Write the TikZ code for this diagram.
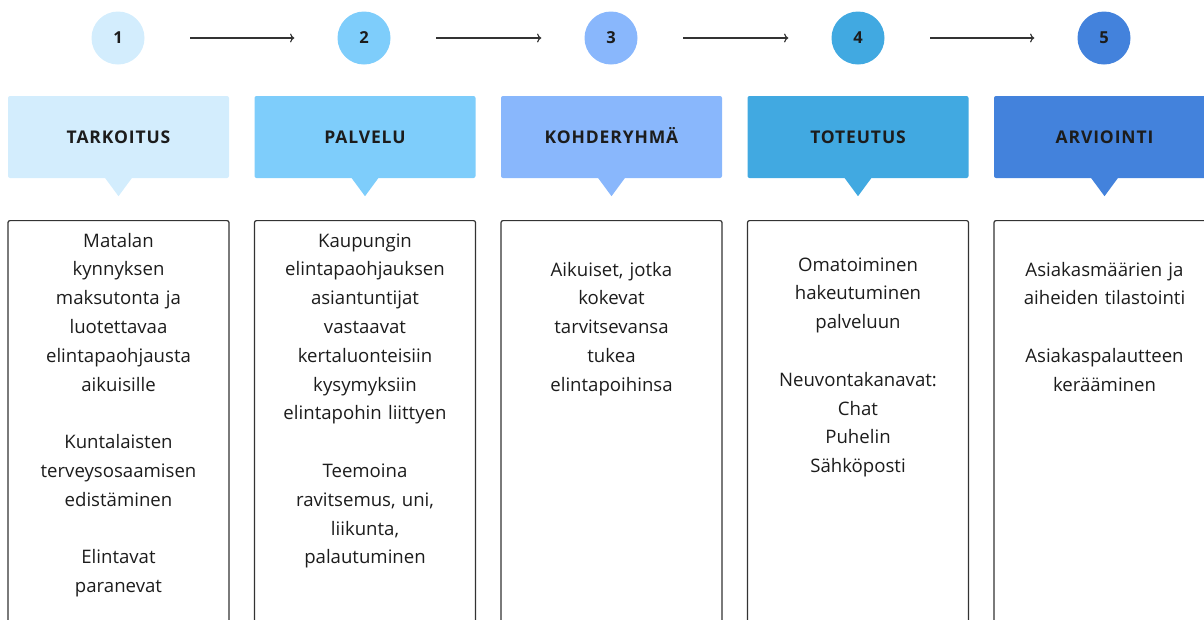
\documentclass[tikz,border=0pt]{standalone}
\usepackage{fontspec}
\setmainfont{Open Sans}
\usetikzlibrary{arrows.meta}
\definecolor{pale}{HTML}{D3EDFD}
\definecolor{sky}{HTML}{7ECDFB}
\definecolor{periw}{HTML}{89B7FC}
\definecolor{azure}{HTML}{41A9E1}
\definecolor{royal}{HTML}{4382DC}
\definecolor{ink}{HTML}{1C1C1C}
\definecolor{frame}{HTML}{333333}
\tikzset{num/.style={circle,minimum size=53pt,inner sep=0pt,text=ink,font=\bfseries\fontsize{16.5}{16}\selectfont}}
\tikzset{head/.style={rounded corners=2pt,minimum width=221pt,minimum height=82pt,inner sep=0pt,text height=12.5pt,text depth=0pt,text=ink,font=\bfseries\fontsize{17.5}{17}\selectfont\addfontfeatures{LetterSpace=5}}}
\tikzset{panel/.style={draw=frame,line width=1.2pt,rounded corners=2pt,minimum width=221pt,minimum height=430pt,anchor=north,inner sep=0pt}}
\tikzset{txt/.style={text width=219pt,align=center,anchor=base,inner sep=0pt,text=ink,font=\fontsize{18.6}{28.8}\selectfont}}
\tikzset{flow/.style={-{Latex[length=6pt,width=5pt]},line width=1.2pt,draw=frame,shorten <=43pt,shorten >=45pt}}

\begin{document}
\begin{tikzpicture}[x=1pt,y=-1pt]
        \useasboundingbox (0,0) rectangle (1204,619);
        \clip (0,0) rectangle (1204,619);
        % steps
        \node[num,fill=pale] (c1) at (118,38) {1};
        \node[num,fill=sky] (c2) at (364,38) {2}
          edge [flow,<-] (c1);
        \node[num,fill=periw] (c3) at (611,38) {3}
          edge [flow,<-] (c2);
        \node[num,fill=azure] (c4) at (858,38) {4}
          edge [flow,<-] (c3);
        \node[num,fill=royal] (c5) at (1104,38) {5}
          edge [flow,<-] (c4);
        % headers
        \node[head,fill=pale] (h1) at (118.5,137) {TARKOITUS};
        \fill[pale] ([xshift=-14pt,yshift=1pt]h1.south) -- ++(28,0) -- ++(-14,19) -- cycle;
        \node[head,fill=sky] (h2) at (365,137) {PALVELU};
        \fill[sky] ([xshift=-14pt,yshift=1pt]h2.south) -- ++(28,0) -- ++(-14,19) -- cycle;
        \node[head,fill=periw] (h3) at (611.5,137) {KOHDERYHMÄ};
        \fill[periw] ([xshift=-14pt,yshift=1pt]h3.south) -- ++(28,0) -- ++(-14,19) -- cycle;
        \node[head,fill=azure] (h4) at (858,137) {TOTEUTUS};
        \fill[azure] ([xshift=-14pt,yshift=1pt]h4.south) -- ++(28,0) -- ++(-14,19) -- cycle;
        \node[head,fill=royal] (h5) at (1104.5,137) {ARVIOINTI};
        \fill[royal] ([xshift=-14pt,yshift=1pt]h5.south) -- ++(28,0) -- ++(-14,19) -- cycle;
        % panels
        \node[panel] (b1) at (118.5,220) {};
        \node[panel] (b2) at (365,220) {};
        \node[panel] (b3) at (611.5,220) {};
        \node[panel] (b4) at (858,220) {};
        \node[panel] (b5) at (1104.5,220) {};
        \node[txt] (t1) at (118.5,247) {Matalan\\ kynnyksen\\ maksutonta ja\\ luotettavaa\\ elintapaohjausta\\ aikuisille\\[28.8pt]
          Kuntalaisten\\ terveysosaamisen\\ edistäminen\\[28.8pt] Elintavat\\ paranevat};
        \node[txt] (t2) at (365,247) {Kaupungin\\ elintapaohjauksen\\ asiantuntijat\\ vastaavat\\ kertaluonteisiin\\ kysymyksiin\\ elintapohin liittyen\\[28.8pt]
          Teemoina\\ ravitsemus, uni,\\ liikunta,\\ palautuminen};
        \node[txt] (t3) at (611.5,276) {Aikuiset, jotka\\ kokevat\\ tarvitsevansa\\ tukea\\ elintapoihinsa};
        \node[txt] (t4) at (858,271) {Omatoiminen\\ hakeutuminen\\ palveluun\\[28.8pt] Neuvontakanavat:\\ Chat\\ Puhelin\\ Sähköposti};
        \node[txt] (t5) at (1104.5,276) {Asiakasmäärien ja\\ aiheiden tilastointi\\[28.8pt] Asiakaspalautteen\\ kerääminen};
      \end{tikzpicture}
\end{document}
